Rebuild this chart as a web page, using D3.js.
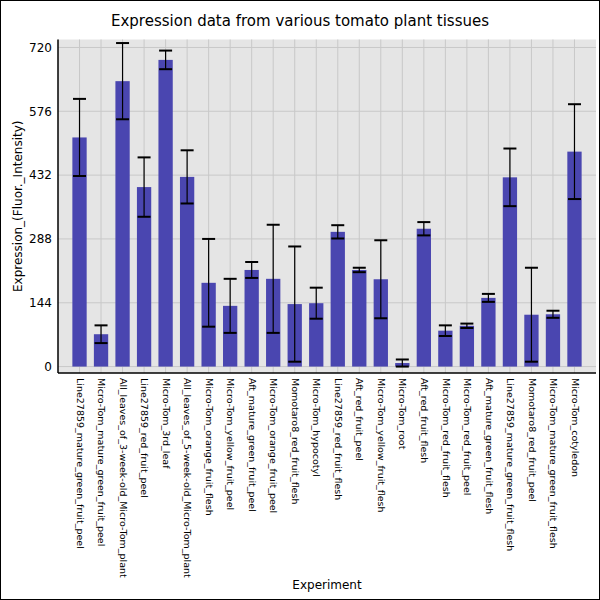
<!DOCTYPE html>
<html>
<head>
<meta charset="utf-8">
<script src="https://cdn.jsdelivr.net/npm/d3@7"></script>
<style>
  body { margin: 0; background: #fff; }
  svg { font-family: "DejaVu Sans", sans-serif; }
</style>
</head>
<body>
<svg width="600" height="600"></svg>
<script>
// tissue names, mean expression and error
var experiments = [
  "Line27859_mature_green_fruit_peel", "Micro-Tom_mature_green_fruit_peel",
  "All_leaves_of_3-week-old_Micro-Tom_plant", "Line27859_red_fruit_peel",
  "Micro-Tom_3rd_leaf", "All_leaves_of_5-week-old_Micro-Tom_plant",
  "Micro-Tom_orange_fruit_flesh", "Micro-Tom_yellow_fruit_peel",
  "Aft_mature_green_fruit_peel", "Micro-Tom_orange_fruit_peel",
  "Momotaro8_red_fruit_flesh", "Micro-Tom_hypocotyl",
  "Line27859_red_fruit_flesh", "Aft_red_fruit_peel",
  "Micro-Tom_yellow_fruit_flesh", "Micro-Tom_root",
  "Aft_red_fruit_flesh", "Micro-Tom_red_fruit_flesh",
  "Micro-Tom_red_fruit_peel", "Aft_mature_green_fruit_flesh",
  "Line27859_mature_green_fruit_flesh", "Momotaro8_red_fruit_peel",
  "Micro-Tom_mature_green_fruit_flesh", "Micro-Tom_cotyledon"
];
var expression = [517, 73, 644, 405, 692, 428, 189, 137, 218, 198, 141, 143,
                  304, 218, 197, 8, 311, 81, 92, 155, 427, 117, 118, 485];
var errors = [87, 20, 86, 67, 21, 60, 99, 61, 18, 122, 130, 35,
              15, 5, 88, 8, 15, 12, 5, 9, 65, 106, 8, 107];
var yTicks = [0, 144, 288, 432, 576, 720];

var data = experiments.map(function(name, i){
  return {name: name, value: expression[i], err: errors[i]};
});

var svg = d3.select("svg");
var margin = {left: 58, top: 39.5, right: 4, bottom: 227};
var width = 600 - margin.left - margin.right;
var height = 600 - margin.top - margin.bottom;

// frame round the picture
svg.append("rect").attr("x", 0.5).attr("y", 0.5).attr("width", 599).attr("height", 599)
  .attr("fill", "#fff").attr("stroke", "#000");

var g = svg.append("g").attr("transform", "translate(" + margin.left + "," + margin.top + ")");

var x = d3.scalePoint().domain(experiments).range([0, width]).padding(1);
var y = d3.scaleLinear().domain([-14.5, 738]).range([height, 0]);
var barW = 14.3;

g.append("rect").attr("width", width).attr("height", height).attr("fill", "#e5e5e5");

// grid
g.selectAll(".vgrid").data(experiments).enter().append("line")
  .attr("x1", function(d){return x(d);}).attr("x2", function(d){return x(d);})
  .attr("y1", 0).attr("y2", height)
  .attr("stroke", "#c8c8c8").attr("stroke-width", 1);
g.selectAll(".hgrid").data(yTicks).enter().append("line")
  .attr("x1", 0).attr("x2", width)
  .attr("y1", function(d){return y(d);}).attr("y2", function(d){return y(d);})
  .attr("stroke", "#c8c8c8").attr("stroke-width", 1);

// bars
g.selectAll(".bar").data(data).enter().append("rect")
  .attr("x", function(d){return x(d.name) - barW/2;})
  .attr("width", barW)
  .attr("y", function(d){return y(d.value);})
  .attr("height", function(d){return y(0) - y(d.value);})
  .attr("fill", "#4a46b0");

// error bars
var eb = g.selectAll(".err").data(data).enter().append("g");
eb.append("line")
  .attr("x1", function(d){return x(d.name);}).attr("x2", function(d){return x(d.name);})
  .attr("y1", function(d){return y(d.value + d.err);})
  .attr("y2", function(d){return y(Math.max(d.value - d.err, 0));})
  .attr("stroke", "#000").attr("stroke-width", 1.2);
[1, -1].forEach(function(s){
  eb.append("line")
    .attr("x1", function(d){return x(d.name) - 6.5;}).attr("x2", function(d){return x(d.name) + 6.5;})
    .attr("y1", function(d){return y(Math.max(d.value + s*d.err, 0));})
    .attr("y2", function(d){return y(Math.max(d.value + s*d.err, 0));})
    .attr("stroke", "#000").attr("stroke-width", 2);
});

// axes
var yAxis = g.append("g").call(d3.axisLeft(y).tickValues(yTicks).tickSize(0).tickPadding(6));
yAxis.select(".domain").remove();
yAxis.selectAll("text").attr("font-size", 12).attr("fill", "#000")
  .attr("font-family", "DejaVu Sans");

var xAxis = g.append("g").attr("transform", "translate(0," + height + ")")
  .call(d3.axisBottom(x).tickSize(0).tickPadding(0));
xAxis.select(".domain").remove();
xAxis.selectAll("text")
  .attr("font-size", 9.5).attr("fill", "#000").attr("font-family", "DejaVu Sans")
  .attr("transform", "rotate(90)")
  .attr("x", 5).attr("y", 0).attr("dy", "0.35em")
  .style("text-anchor", "start");

g.append("line").attr("x1", 0).attr("x2", 0).attr("y1", 0).attr("y2", height)
  .attr("stroke", "#000").attr("stroke-width", 1.5);
g.append("line").attr("x1", 0).attr("x2", width).attr("y1", height).attr("y2", height)
  .attr("stroke", "#000").attr("stroke-width", 1.5);

// titles
svg.append("text").attr("x", 300).attr("y", 26).attr("text-anchor", "middle")
  .attr("font-size", 15).text("Expression data from various tomato plant tissues");
svg.append("text").attr("transform", "translate(22," + (margin.top + height/2) + ") rotate(-90)")
  .attr("text-anchor", "middle").attr("font-size", 12).text("Expression_(Fluor._Intensity)");
svg.append("text").attr("x", margin.left + width/2).attr("y", 589).attr("text-anchor", "middle")
  .attr("font-size", 12).text("Experiment");
</script>
</body>
</html>
